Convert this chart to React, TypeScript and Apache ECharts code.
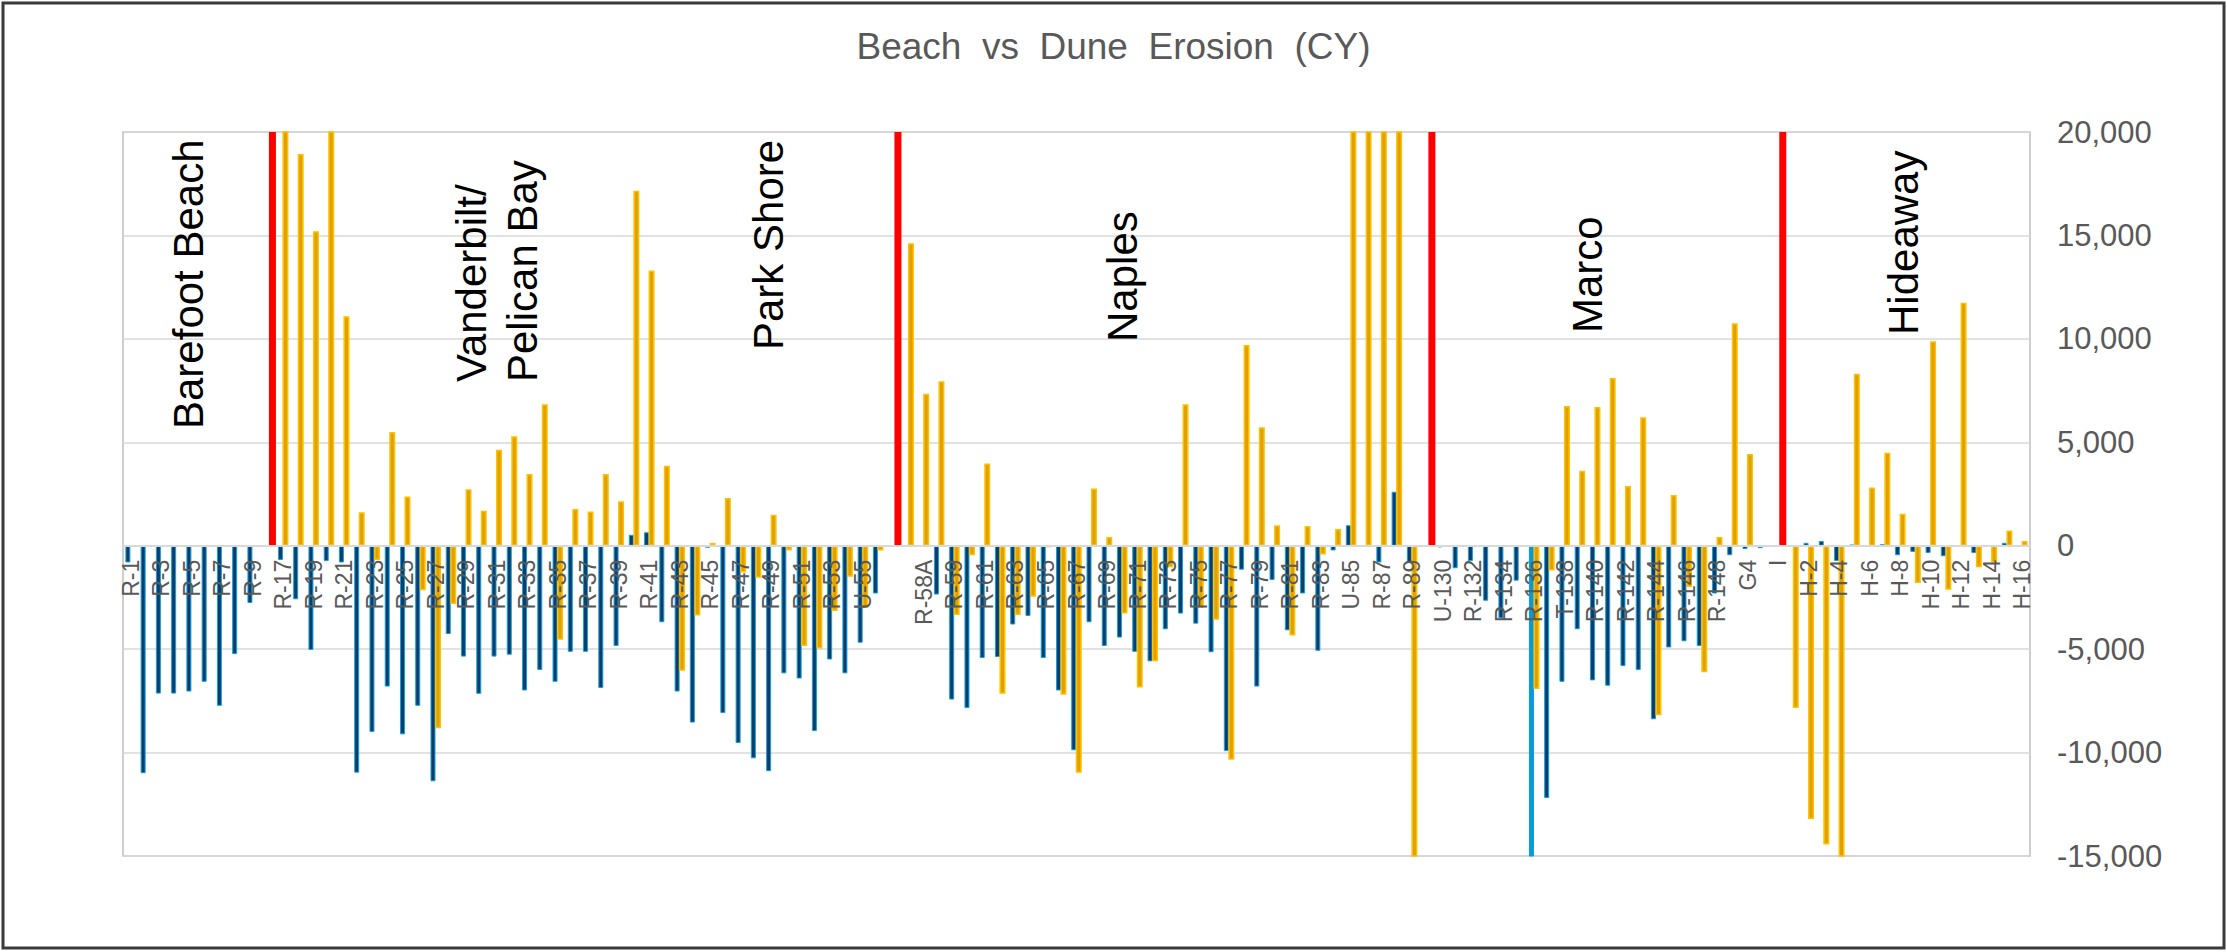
import React, { useEffect, useRef } from "react";
import * as echarts from "echarts";

const categories = [
  "R-1", "R-2", "R-3", "R-4", "R-5", "R-6", "R-7", "R-8", "R-9", "",
  "R-17", "R-18", "R-19", "R-20", "R-21", "R-22", "R-23", "R-24", "R-25", "R-26",
  "R-27", "R-28", "R-29", "R-30", "R-31", "R-32", "R-33", "R-34", "R-35", "R-36",
  "R-37", "R-38", "R-39", "R-40", "R-41", "R-42", "R-43", "R-44", "R-45", "R-46",
  "R-47", "R-48", "R-49", "R-50", "R-51", "R-52", "R-53", "R-54", "U-55", "R-56",
  "", "R-57", "R-58A", "R-58", "R-59", "R-60", "R-61", "R-62", "R-63", "R-64",
  "R-65", "R-66", "R-67", "R-68", "R-69", "R-70", "R-71", "R-72", "R-73", "R-74",
  "R-75", "R-76", "R-77", "R-78", "R-79", "R-80", "R-81", "R-82", "R-83", "R-84",
  "U-85", "R-86", "R-87", "R-88", "R-89", "", "U-130", "R-131", "R-132", "R-133",
  "R-134", "R-135", "R-136", "R-137", "T-138", "R-139", "R-140", "R-141", "R-142", "R-143",
  "R-144", "R-145", "R-146", "R-147", "R-148", "G3", "G4", "G5", "I", "H-1",
  "H-2", "H-3", "H-4", "H-5", "H-6", "H-7", "H-8", "H-9", "H-10", "H-11",
  "H-12", "H-13", "H-14", "H-15", "H-16",
];

// Beach erosion (CY)
const beach = [
  -810, -11000, -7150, -7150, -7050, -6580, -7740, -5240, -2770, null,
  -690, -2590, -5040, -740, -810, -10970, -9010, -6810, -9120, -7740,
  -11390, -4270, -5360, -7160, -5360, -5270, -7000, -6010, -6580, -5130,
  -5130, -6880, -4850, 530, 650, -3700, -7050, -8550, -100, -8090,
  -9540, -10280, -10900, -6170, -6420, -8960, -5500, -6170, -4690, -2310,
  null, -50, -50, -2360, -7440, -7850, -5430, -5380, -3810, -3400,
  -5430, -7000, -9890, -3700, -4850, -4440, -5130, -5590, -4040, -3280,
  -3770, -5150, -9930, -1160, -6810, -1660, -4090, -2310, -5080, -230,
  990, -50, -810, 2610, -810, null, -80, -1090, -740, -2660,
  -3510, -1690, -16000, -12200, -6580, -4040, -6510, -6770, -5820, -6010,
  -8390, -4920, -4620, -4850, -2310, -460, -160, -120, null, 0,
  140, 230, -740, 50, 0, 70, -460, -300, -350, -510,
  0, -350, -30, 140, -30,
];

// Dune erosion (CY)
const dune = [
  null, null, null, null, null, null, null, null, null, null,
  22000, 18940, 15200, 22000, 11090, 1620, -690, 5500, 2380, -2150,
  -8820, -2820, 2730, 1690, 4640, 5290, 3470, 6840, -4550, 1780,
  1660, 3470, 2150, 17160, 13300, 3860, -6050, -3370, 140, 2310,
  -1300, -1550, 1500, -230, -4850, -4970, -3160, -1500, -3000, -230,
  null, 14620, 7350, 7950, -3350, -460, 3970, -7160, -3350, -2470,
  -80, -7210, -10970, 2770, 420, -3280, -6860, -5590, -1040, 6840,
  -3000, -3580, -10350, 9700, 5730, 990, -4340, 950, -420, 810,
  22000, 22000, 22000, 22000, -16000, null, null, null, null, null,
  null, null, -6930, -1200, 6750, 3630, 6700, 8110, 2890, 6210,
  -8200, 2450, -2000, -6120, 420, 10760, 4430, null, null, -7850,
  -13210, -14440, -16000, 8310, 2820, 4500, 1550, -1800, 9890, -2130,
  11740, -1040, -810, 740, 230,
];

// Region divider bars (category indices) and their height
const dividerIndices = [9, 50, 85, 108];
const dividerValue = 20000;

const yMin = -15000;
const yMax = 20000;
const yInterval = 5000;

const regionLabels = ["Barefoot Beach", "Vanderbilt/", "Pelican Bay", "Park Shore", "Naples", "Marco", "Hideaway"];
const highlightedBeachIndex = 92;

const FONT = "'Liberation Sans', Arial, Helvetica, sans-serif";

export default function App() {
  const ref = useRef<HTMLDivElement>(null);

  useEffect(() => {
    if (!ref.current) return;
    const chart = echarts.init(ref.current, undefined, { renderer: "svg" });

    const gridTop = 132;
    const gridHeight = 724;
    // move the category axis up onto the zero line
    const zeroOffset = -(gridHeight * (0 - yMin)) / (yMax - yMin);

    const dividerData = categories.map((_, i) => (dividerIndices.includes(i) ? dividerValue : null));
    const spacer = categories.map(() => null);
    const beachData = beach.map((v, i) =>
      i === highlightedBeachIndex
        ? { value: v, itemStyle: { color: "#0a9ad6", borderColor: "#0a9ad6" } }
        : v
    );

    const regionPos: [number, number][] = [
      [188, 429],
      [471, 382],
      [522, 382],
      [768, 350],
      [1122, 342],
      [1587, 333],
      [1903, 335],
    ];

    chart.setOption({
      animation: false,
      backgroundColor: "#ffffff",
      textStyle: { fontFamily: FONT },
      title: {
        text: "Beach  vs  Dune  Erosion  (CY)",
        left: "center",
        top: 23,
        textStyle: { fontSize: 37, fontWeight: "normal", color: "#595959", fontFamily: FONT },
      },
      grid: {
        left: 123,
        top: gridTop,
        width: 1907,
        height: gridHeight,
        show: true,
        borderColor: "#bfbfbf",
        borderWidth: 1.5,
        containLabel: false,
      },
      xAxis: [
        {
          type: "category",
          data: categories,
          boundaryGap: true,
          position: "bottom",
          offset: zeroOffset,
          z: 10,
          axisLine: { onZero: false, lineStyle: { color: "#d9d9d9", width: 2 } },
          axisTick: { show: false },
          axisLabel: {
            rotate: 90,
            interval: 1,
            fontSize: 23,
            color: "#595959",
            margin: 14,
            fontFamily: FONT,
          },
          splitLine: { show: false },
        },
        {
          type: "category",
          data: categories,
          show: false,
          boundaryGap: true,
        },
      ],
      yAxis: {
        type: "value",
        position: "right",
        min: yMin,
        max: yMax,
        interval: yInterval,
        axisLine: { show: false },
        axisTick: { show: false },
        axisLabel: {
          fontSize: 31,
          color: "#595959",
          margin: 27,
          fontFamily: FONT,
          formatter: (v: number) => v.toLocaleString("en-US"),
        },
        splitLine: { lineStyle: { color: "#d9d9d9", width: 1.5 } },
      },
      series: [
        {
          name: "Beach",
          type: "bar",
          xAxisIndex: 0,
          data: beachData,
          barWidth: 5,
          barGap: "-10%",
          itemStyle: { color: "#0f3c6a", borderColor: "#12a2dc", borderWidth: 1 },
        },
        {
          name: "Dune",
          type: "bar",
          xAxisIndex: 0,
          data: dune,
          barWidth: 6,
          barGap: "-10%",
          itemStyle: { color: "#e0a000", borderColor: "#ffc000", borderWidth: 1.5 },
        },
        {
          name: "spacer",
          type: "bar",
          xAxisIndex: 1,
          data: spacer,
          barWidth: 9,
          barGap: "0%",
          silent: true,
        },
        {
          name: "Divider",
          type: "bar",
          xAxisIndex: 1,
          data: dividerData,
          barWidth: 7,
          barGap: "0%",
          itemStyle: { color: "#ff0000" },
        },
      ],
      graphic: [
        ...regionLabels.map((t, i) => ({
          type: "text",
          x: regionPos[i][0],
          y: regionPos[i][1],
          rotation: Math.PI / 2,
          z: 100,
          style: {
            text: t,
            fill: "#000000",
            fontSize: 42,
            fontFamily: FONT,
            align: "left",
            verticalAlign: "middle",
          },
        })),
        {
          type: "rect",
          z: 100,
          shape: { x: 3, y: 3, width: 2221, height: 945 },
          style: { fill: "none", stroke: "#3a3a3a", lineWidth: 3 },
        },
      ],
    });

    return () => chart.dispose();
  }, []);

  return (
    <div
      ref={ref}
      style={{ position: "absolute", left: 0, top: 0, width: 2227, height: 952, background: "#fff" }}
    />
  );
}
